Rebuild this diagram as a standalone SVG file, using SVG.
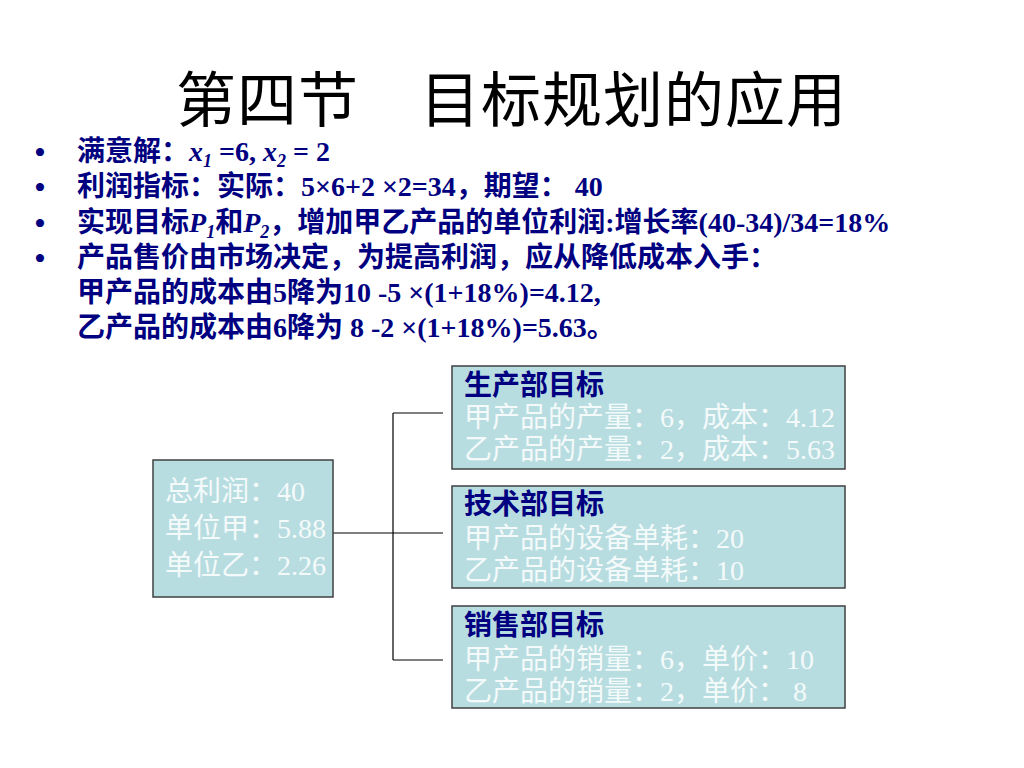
<svg xmlns="http://www.w3.org/2000/svg" width="1024" height="768" viewBox="0 0 1024 768">
<style>
.title{font-family:"Liberation Serif","Noto Sans CJK SC",serif;font-size:60px;letter-spacing:1px;fill:#000}
.b{font-family:"Liberation Serif","Noto Sans CJK SC",serif;font-size:28px;font-weight:bold;fill:#000080}
.bul{font-family:"Liberation Serif",serif;font-size:34px;fill:#000080}
.box{fill:#b8dde1;stroke:#404040;stroke-width:1.5}
.hd{font-family:"Liberation Serif","Noto Sans CJK SC",serif;font-size:28px;font-weight:bold;fill:#000080}
.bd{font-family:"Liberation Serif","Noto Sans CJK SC",serif;font-size:28px;fill:#f4fafa}
.con{fill:none;stroke:#000;stroke-width:1.2}
</style>
<rect width="1024" height="768" fill="#fff"/>
<text class="title" x="176" y="122">第四节　目标规划的应用</text>
<g id="bullets">
<text class="bul" x="34" y="164">•</text>
<text class="bul" x="34" y="199">•</text>
<text class="bul" x="34" y="235">•</text>
<text class="bul" x="34" y="270">•</text>
<text class="b" x="77" y="161">满意解：<tspan font-style="italic">x</tspan><tspan font-style="italic" font-size="18" dy="6">1</tspan><tspan dy="-6"> =6, </tspan><tspan font-style="italic">x</tspan><tspan font-style="italic" font-size="18" dy="6">2</tspan><tspan dy="-6"> = 2</tspan></text>
<text class="b" x="77" y="196">利润指标：实际：5×6+2 ×2=34，期望： 40</text>
<text class="b" x="77" y="232">实现目标<tspan font-style="italic">P</tspan><tspan font-style="italic" font-size="18" dy="6">1</tspan><tspan dy="-6">和</tspan><tspan font-style="italic">P</tspan><tspan font-style="italic" font-size="18" dy="6">2</tspan><tspan dy="-6">，增加甲乙产品的单位利润:增长率(40-34)/34=18%</tspan></text>
<text class="b" x="77" y="267">产品售价由市场决定，为提高利润，应从降低成本入手：</text>
<text class="b" x="77" y="302">甲产品的成本由5降为10 -5 ×(1+18%)=4.12,</text>
<text class="b" x="77" y="337">乙产品的成本由6降为 8 -2 ×(1+18%)=5.63。</text>
</g>
<g id="connectors">
<path class="con" d="M333 533 H443 M393 413 V660 M393 413 H443 M393 660 H443"/>
</g>
<g id="total">
<rect class="box" x="153" y="460" width="180" height="137"/>
<text class="bd" x="165" y="501">总利润：40</text>
<text class="bd" x="165" y="538">单位甲：5.88</text>
<text class="bd" x="165" y="575">单位乙：2.26</text>
</g>
<g id="production">
<rect class="box" x="452" y="366" width="393" height="103"/>
<text class="hd" x="464" y="395">生产部目标</text>
<text class="bd" x="464" y="427">甲产品的产量：6，成本：4.12</text>
<text class="bd" x="464" y="459">乙产品的产量：2，成本：5.63</text>
</g>
<g id="tech">
<rect class="box" x="452" y="486" width="393" height="102"/>
<text class="hd" x="464" y="514">技术部目标</text>
<text class="bd" x="464" y="548">甲产品的设备单耗：20</text>
<text class="bd" x="464" y="580">乙产品的设备单耗：10</text>
</g>
<g id="sales">
<rect class="box" x="452" y="606" width="393" height="102"/>
<text class="hd" x="464" y="635">销售部目标</text>
<text class="bd" x="464" y="669">甲产品的销量：6，单价：10</text>
<text class="bd" x="464" y="701">乙产品的销量：2，单价： 8</text>
</g>
</svg>
